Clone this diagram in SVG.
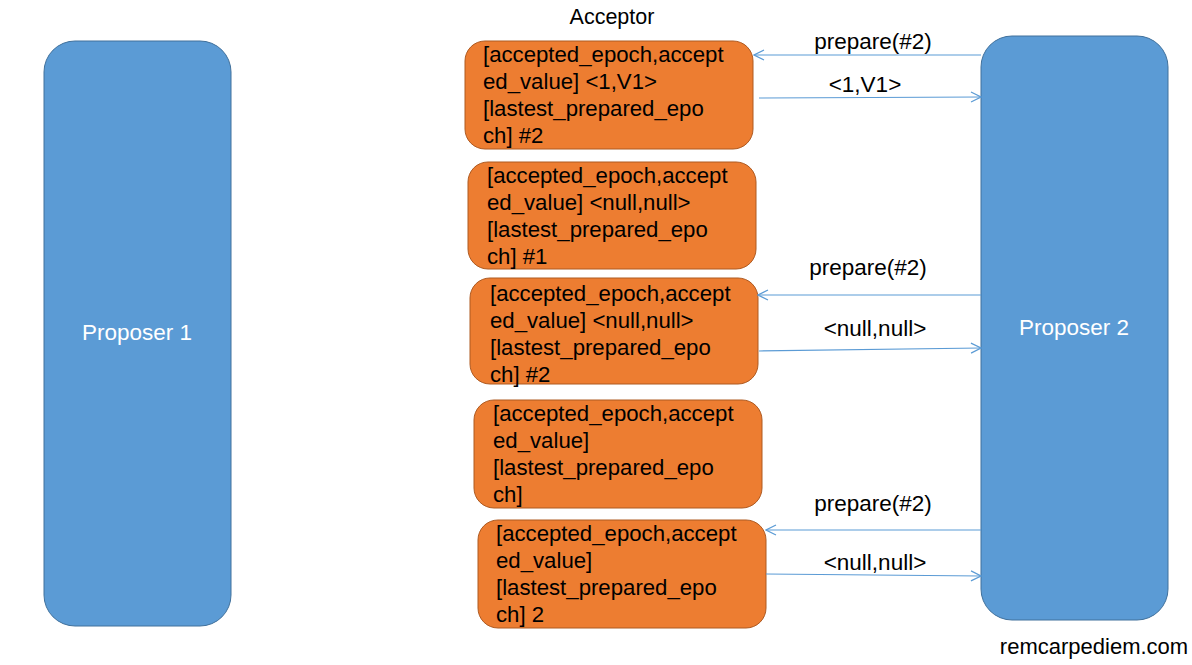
<svg xmlns="http://www.w3.org/2000/svg" width="1192" height="665" viewBox="0 0 1192 665">
<defs>
<style>
.prop{fill:#5B9BD5;stroke:#41719C;stroke-width:1}
.acc{fill:#ED7D31;stroke:#AE5A21;stroke-width:1}
.pt{font-family:"Liberation Sans",Arial,sans-serif;font-size:22.5px;fill:#FFFFFF;text-anchor:middle}
.at{font-family:"Liberation Sans",Arial,sans-serif;font-size:22.2px;fill:#000000}
.lbl{font-family:"Liberation Sans",Arial,sans-serif;font-size:22.5px;fill:#000000;text-anchor:middle}
.conn{stroke:#5B9BD5;stroke-width:1.2;fill:none;marker-end:url(#arr)}
</style>
<marker id="arr" viewBox="0 0 12 12" refX="11" refY="6" markerWidth="12" markerHeight="12" markerUnits="userSpaceOnUse" orient="auto">
<path d="M1,1 L11,6 L1,11" fill="none" stroke="#5B9BD5" stroke-width="1.2"/>
</marker>
</defs>
<rect width="1192" height="665" fill="#FFFFFF"/>

<g id="proposer1">
<rect class="prop" x="44" y="41" width="187" height="585" rx="31"/>
<text class="pt" x="137" y="340">Proposer 1</text>
</g>
<g id="proposer2">
<rect class="prop" x="981" y="36" width="187" height="584" rx="31"/>
<text class="pt" x="1074" y="335">Proposer 2</text>
</g>

<g id="acceptor-title">
<text class="lbl" x="612" y="24" style="font-size:21.5px">Acceptor</text>
</g>

<g id="acceptor1">
<rect class="acc" x="465" y="41" width="288" height="108" rx="20"/>
<text class="at" x="483" y="62">[accepted_epoch,accept</text>
<text class="at" x="483" y="89">ed_value] &lt;1,V1&gt;</text>
<text class="at" x="483" y="116">[lastest_prepared_epo</text>
<text class="at" x="483" y="143">ch] #2</text>
</g>
<g id="acceptor2">
<rect class="acc" x="468" y="162" width="288" height="107" rx="20"/>
<text class="at" x="487" y="183">[accepted_epoch,accept</text>
<text class="at" x="487" y="210">ed_value] &lt;null,null&gt;</text>
<text class="at" x="487" y="237">[lastest_prepared_epo</text>
<text class="at" x="487" y="264">ch] #1</text>
</g>
<g id="acceptor3">
<rect class="acc" x="470" y="278" width="288" height="106" rx="20"/>
<text class="at" x="490" y="301">[accepted_epoch,accept</text>
<text class="at" x="490" y="328">ed_value] &lt;null,null&gt;</text>
<text class="at" x="490" y="355">[lastest_prepared_epo</text>
<text class="at" x="490" y="382">ch] #2</text>
</g>
<g id="acceptor4">
<rect class="acc" x="474" y="400" width="288" height="108" rx="20"/>
<text class="at" x="493" y="421">[accepted_epoch,accept</text>
<text class="at" x="493" y="448">ed_value]</text>
<text class="at" x="493" y="475">[lastest_prepared_epo</text>
<text class="at" x="493" y="502">ch]</text>
</g>
<g id="acceptor5">
<rect class="acc" x="478" y="520" width="288" height="108" rx="20"/>
<text class="at" x="496" y="541">[accepted_epoch,accept</text>
<text class="at" x="496" y="568">ed_value]</text>
<text class="at" x="496" y="595">[lastest_prepared_epo</text>
<text class="at" x="496" y="622">ch] 2</text>
</g>

<g id="connectors">
<line class="conn" x1="981" y1="55" x2="754" y2="55"/>
<line class="conn" x1="759" y1="98" x2="981" y2="97"/>
<line class="conn" x1="981" y1="295" x2="758" y2="295"/>
<line class="conn" x1="759" y1="351" x2="981" y2="348"/>
<line class="conn" x1="981" y1="530" x2="766" y2="530"/>
<line class="conn" x1="766" y1="574" x2="981" y2="576"/>
</g>

<g id="connector-labels">
<text class="lbl" x="873" y="49">prepare(#2)</text>
<text class="lbl" x="865" y="92">&lt;1,V1&gt;</text>
<text class="lbl" x="868" y="275">prepare(#2)</text>
<text class="lbl" x="875" y="336">&lt;null,null&gt;</text>
<text class="lbl" x="873" y="511">prepare(#2)</text>
<text class="lbl" x="875" y="570">&lt;null,null&gt;</text>
</g>

<g id="watermark">
<text class="lbl" x="1094" y="654" style="font-size:22px">remcarpediem.com</text>
</g>
</svg>
